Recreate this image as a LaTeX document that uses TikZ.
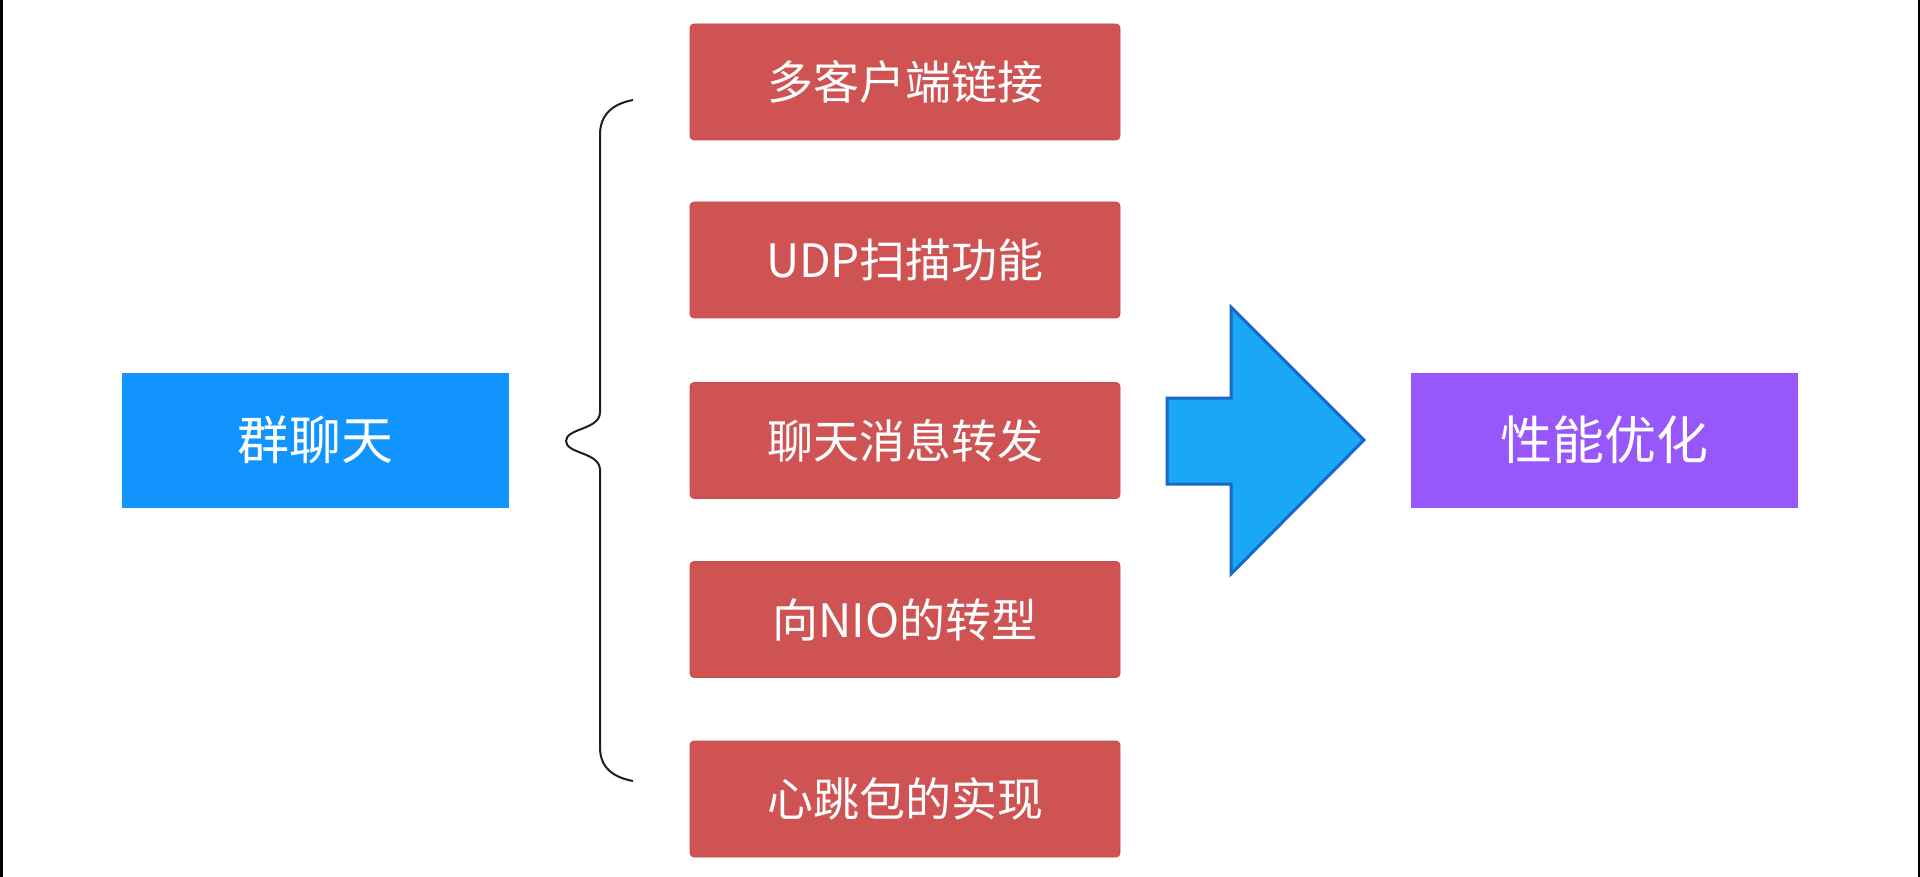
\documentclass[tikz,border=0pt]{standalone}
\usepackage{fontspec}
\newfontfamily\cjk{Noto Sans CJK SC}
\usepackage{tikz}
\definecolor{qblue}{RGB}{18, 148, 255}
\definecolor{tred}{RGB}{208, 83, 83}
\definecolor{tredline}{RGB}{196, 74, 74}
\definecolor{pviolet}{RGB}{152, 87, 250}
\definecolor{afill}{RGB}{26, 167, 245}
\definecolor{aline}{RGB}{22, 105, 200}
\definecolor{bk}{RGB}{30, 30, 30}

\begin{document}
\begin{tikzpicture}[every node/.style={inner sep=0pt},
  mainbox/.style={rectangle, minimum width=387pt, minimum height=135pt, text=white, font=\cjk\fontsize{52}{60}\selectfont},
  taskbox/.style={rectangle, rounded corners=4pt, minimum width=430pt, minimum height=116pt, fill=tred, draw=tredline, line width=0.8pt, text=white, font=\cjk\fontsize{46}{54}\selectfont}]
\useasboundingbox (0pt, 0pt) rectangle (1920pt, -877pt);
\fill [black] (0pt, 0pt) rectangle (2.5pt, -877pt);
\fill [black] (1917.5pt, 0pt) rectangle (1920pt, -877pt);
\node (chat) [mainbox, fill=qblue] at (315.5pt, -440pt) {群聊天};
\node (t1) [taskbox] at (905pt, -82pt) {多客户端链接};
\node (t2) [taskbox] at (905pt, -260pt) {UDP扫描功能};
\node (t3) [taskbox] at (905pt, -440.5pt) {聊天消息转发};
\node (t4) [taskbox] at (905pt, -619.5pt) {向NIO的转型};
\node (t5) [taskbox] at (905pt, -799pt) {心跳包的实现};
\node (perf) [mainbox, fill=pviolet] at (1604.5pt, -440pt) {性能优化};
% brace
\coordinate (btop) at (633pt, -100pt);
\coordinate (btip) at (566pt, -441pt);
\coordinate (bbot) at (633pt, -781pt);
\draw [line width=2pt, color=bk] (btop) .. controls (612pt, -104pt) and (600pt, -115pt) .. (600pt, -135pt)
  -- (600pt, -412pt) .. controls (600pt, -430pt) and (566pt, -428pt) .. (btip)
  .. controls (566pt, -454pt) and (600pt, -452pt) .. (600pt, -470pt)
  -- (600pt, -747pt) .. controls (600pt, -767pt) and (612pt, -777pt) .. (bbot);
% block arrow
\draw [line width=3pt, fill=afill, draw=aline, line join=miter]
  (1167pt, -398pt) -- (1231pt, -398pt) -- (1231pt, -307pt) -- (1364pt, -440pt)
  -- (1231pt, -574pt) -- (1231pt, -484pt) -- (1167pt, -484pt) -- cycle;
\end{tikzpicture}
\end{document}
